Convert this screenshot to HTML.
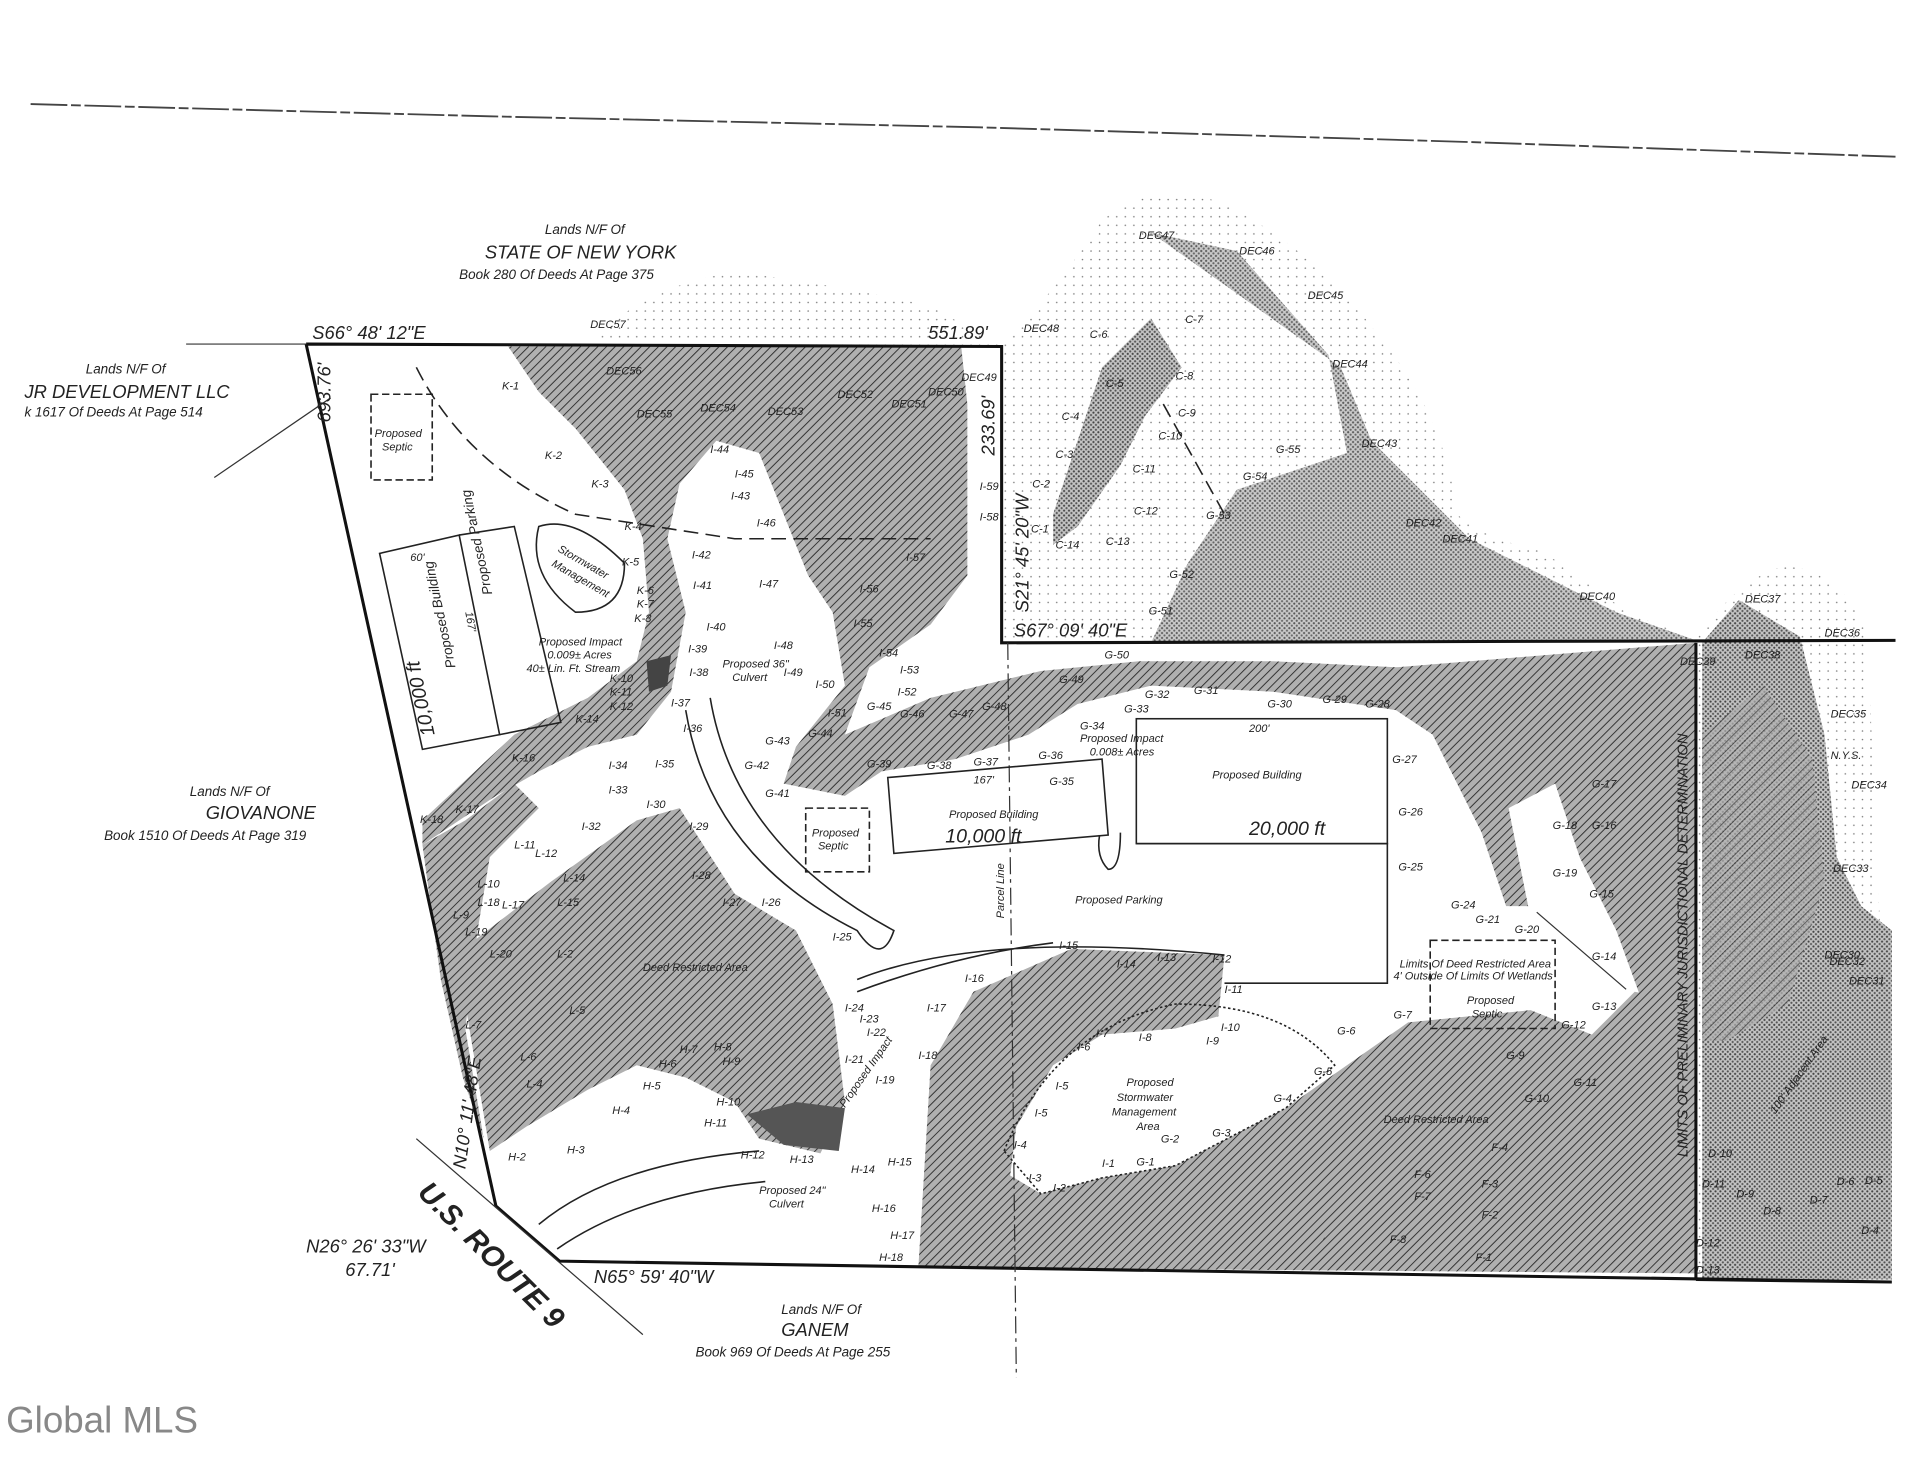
<!DOCTYPE html>
<html><head><meta charset="utf-8"><style>
html,body{margin:0;padding:0;background:#fff}
svg{display:block}
text{font-family:"Liberation Sans",sans-serif;fill:#222}
.s{font-size:9px;font-style:italic}
.m{font-size:11px;font-style:italic}
.b{font-size:15px}
</style></head><body>
<svg width="1920" height="1484" viewBox="0 0 1568 1212" preserveAspectRatio="none" xmlns="http://www.w3.org/2000/svg">
<defs>
<pattern id="h" width="5" height="5" patternUnits="userSpaceOnUse" patternTransform="rotate(45)">
<rect width="5" height="5" fill="#b0b0b0"/><line x1="0" y1="0" x2="0" y2="5" stroke="#333" stroke-width="1.6"/></pattern>
<pattern id="d" width="4" height="4" patternUnits="userSpaceOnUse">
<rect width="4" height="4" fill="#c4c4c4"/><circle cx="1" cy="1" r="0.9" fill="#444"/><circle cx="3" cy="3" r="0.9" fill="#555"/></pattern>
<pattern id="ls" width="7" height="7" patternUnits="userSpaceOnUse">
<circle cx="2" cy="2" r="0.6" fill="#777"/></pattern>
</defs>
<rect width="1568" height="1212" fill="#fff"/>
<path d="M25 85 L400 95 L800 104 L1200 116 L1548 128" stroke="#444" stroke-width="1.5" fill="none" stroke-dasharray="30 3 8 3"/>
<path d="M485 280 Q520 235 600 222 Q680 232 760 250 L818 283 Z" fill="url(#ls)"/>
<path d="M818 283 Q860 240 900 180 Q950 140 1010 172 Q1080 210 1130 280 Q1180 340 1190 420 Q1210 440 1260 450 Q1300 480 1330 500 L1385 523 L940 525 L818 525 Z" fill="url(#ls)"/>
<path d="M1385 523 Q1420 470 1460 462 Q1510 470 1525 520 L1548 1045 L1385 1045 Z" fill="url(#ls)"/>
<path d="M940 190 L1010 205 L1085 290 L1100 370 L1010 400 L970 460 L940 525 L1385 523 L1320 500 L1200 440 L1120 360 L1095 300 Z" fill="url(#d)" opacity=".9"/>
<path d="M860 420 L900 300 L940 260 L965 300 L935 340 L915 380 L880 430 L860 445 Z" fill="url(#d)"/>
<path d="M1390 525 L1420 490 L1470 520 L1490 600 L1500 700 L1520 740 L1545 760 L1545 1045 L1390 1045 Z" fill="url(#d)"/>
<path d="M1390 600 L1440 560 L1480 620 L1490 720 L1460 820 L1410 850 L1390 850 Z" fill="url(#h)" opacity=".7"/>
<path d="M415 283 L785 283 L790 330 L790 470 L760 510 L710 545 L690 600 L640 640 L650 610 L690 560 L680 500 L660 470 L640 420 L620 370 L585 360 L555 395 L545 440 L560 500 L548 565 L520 600 L480 610 L440 630 L405 650 L345 690 L345 670 L420 600 L480 570 L520 540 L530 500 L525 440 L510 400 L470 350 L440 320 Z" fill="url(#h)"/>
<path d="M640 640 L690 600 L760 570 L850 548 L930 540 L1040 540 L1140 545 L1385 525 L1385 820 L1340 815 L1320 760 L1290 700 L1270 640 L1255 680 L1250 740 L1230 740 L1210 680 L1195 650 L1170 600 L1140 580 L1040 565 L940 560 L880 575 L840 600 L780 620 L720 630 L690 650 Z" fill="url(#h)"/>
<path d="M1232 660 L1270 640 L1290 700 L1262 745 L1248 740 Z" fill="#fff"/>
<path d="M750 1035 L760 870 L795 810 L875 775 L1000 780 L995 830 L960 840 L900 845 L860 870 L830 920 L825 960 L850 975 L900 962 L960 952 L1050 905 L1100 870 L1150 835 L1250 825 L1300 845 L1335 810 L1385 820 L1385 1040 Z" fill="url(#h)"/>
<path d="M385 770 L450 720 L520 670 L555 660 L600 730 L650 760 L680 820 L690 900 L670 942 L620 930 L600 900 L560 880 L520 870 L480 890 L430 920 L400 940 L390 880 L380 820 Z" fill="url(#h)"/>
<path d="M345 690 L380 670 L420 640 L440 660 L400 700 L390 760 L380 840 L395 930 L378 880 L360 800 Z" fill="url(#h)"/>
<path d="M610 910 L650 900 L690 905 L685 940 L640 935 Z" fill="#555"/>
<path d="M528 540 L548 535 L545 560 L530 565 Z" fill="#444"/>
<path d="M1140 950 L1220 935 L1240 990 L1230 1030 L1140 1030 L1120 1000 Z" fill="url(#h)" opacity=".8"/>
<path d="M250 281 L818 283 L818 525 L1548 523 M250 281 L405 985 L457 1030 L1545 1047 M1385 525 L1385 1045 M1385 1045 L1545 1047" stroke="#111" stroke-width="2.5" fill="none"/>
<line x1="152" y1="281" x2="250" y2="281" stroke="#333"/>
<line x1="175" y1="390" x2="270" y2="325" stroke="#333"/>
<line x1="340" y1="930" x2="525" y2="1090" stroke="#333"/>
<line x1="823" y1="525" x2="830" y2="1125" stroke="#333" stroke-dasharray="14 4 3 4"/>
<line x1="1255" y1="745" x2="1328" y2="808" stroke="#333"/>
<g fill="none" stroke="#222" stroke-width="1.3">
<rect x="303" y="322" width="50" height="70" stroke-dasharray="6 3"/>
<path d="M310 452 L375 437 L408 600 L345 612 Z"/>
<path d="M375 437 L420 430 L458 590 L408 600"/>
<rect x="658" y="660" width="52" height="52" stroke-dasharray="6 3"/>
<path d="M725 635 L900 620 L905 682 L730 697 Z"/>
<rect x="928" y="587" width="205" height="102"/>
<path d="M928 689 L1133 689 L1133 803 L1000 803"/>
<rect x="1168" y="768" width="102" height="72" stroke-dasharray="6 3"/>
<path d="M440 430 Q470 420 510 460 Q510 500 470 500 Q430 470 440 430 Z"/>
<path d="M560 580 Q580 700 700 760 Q720 790 730 760 Q600 690 580 570"/>
<path d="M820 940 Q860 840 960 820 Q1050 820 1090 870 L1050 905 L960 952 L900 962 L850 975 Z" stroke-dasharray="2 2"/>
<path d="M440 1000 Q500 950 620 940 M455 1020 Q520 975 625 965"/>
<path d="M700 800 Q800 760 1000 780 M700 810 Q780 780 860 770"/>
<path d="M340 300 Q380 380 470 420 L600 440 L760 440" stroke-dasharray="12 6"/>
<path d="M950 330 L1000 420" stroke-dasharray="12 6"/>
<path d="M915 680 Q915 710 905 710 Q895 700 898 682"/>
</g>
<text x="445" y="191" class="m">Lands N/F Of</text>
<text x="396" y="211" class="b" font-style="italic">STATE OF NEW YORK</text>
<text x="375" y="228" class="m">Book  280  Of Deeds At Page  375</text>
<text x="70" y="305" class="m">Lands N/F Of</text>
<text x="20" y="325" class="b" font-style="italic">JR DEVELOPMENT LLC</text>
<text x="20" y="340" class="m">k  1617  Of Deeds At Page  514</text>
<text x="155" y="650" class="m">Lands N/F Of</text>
<text x="168" y="669" class="b" font-style="italic">GIOVANONE</text>
<text x="85" y="686" class="m">Book  1510  Of Deeds At Page  319</text>
<text x="638" y="1073" class="m">Lands N/F Of</text>
<text x="638" y="1091" class="b" font-style="italic">GANEM</text>
<text x="568" y="1108" class="m">Book  969  Of Deeds At Page  255</text>
<text x="255" y="277" class="b" font-style="italic">S66° 48' 12"E</text>
<text x="758" y="277" class="b" font-style="italic">551.89'</text>
<text x="828" y="520" class="b" font-style="italic">S67° 09' 40"E</text>
<text x="485" y="1048" class="b" font-style="italic">N65° 59' 40"W</text>
<text x="250" y="1023" class="b" font-style="italic">N26° 26' 33"W</text>
<text x="282" y="1042" class="b" font-style="italic">67.71'</text>
<text transform="translate(270,345) rotate(-90)" class="b" font-style="italic">693.76'</text>
<text transform="translate(812,372) rotate(-90)" class="b" font-style="italic">233.69'</text>
<text transform="translate(840,500) rotate(-90)" class="b" font-style="italic">S21° 45' 20"W</text>
<text transform="translate(380,955) rotate(-82)" class="b" font-style="italic">N10° 11' 48"E</text>
<text transform="translate(340,975) rotate(45)" font-size="24" font-weight="bold" font-style="italic">U.S. ROUTE 9</text>
<text transform="translate(1378,945) rotate(-90)" font-size="12" font-style="italic">LIMITS OF PRELIMINARY JURISDICTIONAL DETERMINATION</text>
<text transform="translate(1450,910) rotate(-55)" class="s">100' Adjacent Area</text>
<text x="306" y="357" class="s">Proposed</text><text x="312" y="368" class="s">Septic</text>
<text x="663" y="683" class="s">Proposed</text><text x="668" y="694" class="s">Septic</text>
<text x="1198" y="820" class="s">Proposed</text><text x="1202" y="831" class="s">Septic</text>
<text transform="translate(372,545) rotate(-102)" class="m">Proposed Building</text>
<text transform="translate(355,600) rotate(-102)" font-size="16" font-style="italic">10,000 ft</text>
<text transform="translate(402,485) rotate(-102)" class="m">Proposed Parking</text>
<text x="335" y="458" class="s">60'</text>
<text transform="translate(380,500) rotate(80)" class="s">167'</text>
<text x="775" y="668" class="s">Proposed Building</text>
<text x="772" y="688" font-size="16" font-style="italic">10,000 ft</text>
<text x="990" y="636" class="s">Proposed Building</text>
<text x="1020" y="682" font-size="16" font-style="italic">20,000 ft</text>
<text x="1020" y="598" class="s">200'</text>
<text x="795" y="640" class="s">167'</text>
<text x="878" y="738" class="s">Proposed Parking</text>
<text transform="translate(820,750) rotate(-90)" class="s">Parcel Line</text>
<text x="920" y="887" class="s">Proposed</text><text x="912" y="899" class="s">Stormwater</text><text x="908" y="911" class="s">Management</text><text x="928" y="923" class="s">Area</text>
<text transform="translate(455,450) rotate(30)" class="s">Stormwater</text>
<text transform="translate(450,462) rotate(30)" class="s">Management</text>
<text x="440" y="527" class="s">Proposed Impact</text>
<text x="447" y="538" class="s">0.009± Acres</text>
<text x="430" y="549" class="s">40± Lin. Ft. Stream</text>
<text x="590" y="545" class="s">Proposed 36"</text><text x="598" y="556" class="s">Culvert</text>
<text x="882" y="606" class="s">Proposed Impact</text><text x="890" y="617" class="s">0.008± Acres</text>
<text x="620" y="975" class="s">Proposed 24"</text><text x="628" y="986" class="s">Culvert</text>
<text transform="translate(690,905) rotate(-55)" class="s">Proposed Impact</text>
<text x="525" y="793" class="s">Deed Restricted Area</text>
<text x="1130" y="917" class="s">Deed Restricted Area</text>
<text x="1143" y="790" class="s">Limits Of Deed Restricted Area</text>
<text x="1138" y="800" class="s">4' Outside Of Limits Of Wetlands</text>
<text x="1495" y="620" class="s">N.Y.S.</text>
<g class="s" font-size="8">
<text x="930" y="195">DEC47</text><text x="1012" y="208">DEC46</text><text x="1068" y="244">DEC45</text><text x="1088" y="300">DEC44</text><text x="1112" y="365">DEC43</text><text x="1148" y="430">DEC42</text><text x="1178" y="443">DEC41</text><text x="1290" y="490">DEC40</text><text x="1425" y="492">DEC37</text><text x="1490" y="520">DEC36</text><text x="1425" y="538">DEC38</text><text x="1372" y="543">DEC39</text><text x="1495" y="586">DEC35</text><text x="1512" y="644">DEC34</text><text x="1497" y="712">DEC33</text><text x="1494" y="788">DEC32</text><text x="1490" y="783">DEC30</text><text x="1510" y="804">DEC31</text>
<text x="482" y="268">DEC57</text><text x="495" y="306">DEC56</text><text x="520" y="341">DEC55</text><text x="572" y="336">DEC54</text><text x="627" y="339">DEC53</text><text x="684" y="325">DEC52</text><text x="728" y="333">DEC51</text><text x="758" y="323">DEC50</text><text x="785" y="311">DEC49</text><text x="836" y="271">DEC48</text>
<text x="410" y="318">K-1</text><text x="445" y="375">K-2</text><text x="483" y="398">K-3</text><text x="510" y="433">K-4</text><text x="508" y="462">K-5</text><text x="520" y="485">K-6</text><text x="520" y="496">K-7</text><text x="518" y="508">K-8</text><text x="498" y="557">K-10</text><text x="498" y="568">K-11</text><text x="498" y="580">K-12</text><text x="470" y="590">K-14</text><text x="418" y="622">K-16</text><text x="372" y="664">K-17</text><text x="343" y="672">K-18</text>
<text x="580" y="370">I-44</text><text x="600" y="390">I-45</text><text x="597" y="408">I-43</text><text x="618" y="430">I-46</text><text x="565" y="456">I-42</text><text x="566" y="481">I-41</text><text x="620" y="480">I-47</text><text x="577" y="515">I-40</text><text x="562" y="533">I-39</text><text x="563" y="552">I-38</text><text x="548" y="577">I-37</text><text x="558" y="598">I-36</text><text x="535" y="627">I-35</text><text x="497" y="628">I-34</text><text x="497" y="648">I-33</text><text x="475" y="678">I-32</text><text x="528" y="660">I-30</text><text x="563" y="678">I-29</text><text x="565" y="718">I-28</text><text x="590" y="740">I-27</text><text x="622" y="740">I-26</text><text x="680" y="768">I-25</text><text x="690" y="826">I-24</text><text x="702" y="835">I-23</text><text x="708" y="846">I-22</text><text x="690" y="868">I-21</text><text x="715" y="885">I-19</text><text x="632" y="530">I-48</text><text x="640" y="552">I-49</text><text x="666" y="562">I-50</text><text x="676" y="585">I-51</text>
<text x="740" y="458">I-57</text><text x="702" y="484">I-56</text><text x="697" y="512">I-55</text><text x="718" y="536">I-54</text><text x="735" y="550">I-53</text><text x="733" y="568">I-52</text><text x="800" y="400">I-59</text><text x="800" y="425">I-58</text>
<text x="890" y="276">C-6</text><text x="968" y="264">C-7</text><text x="903" y="316">C-5</text><text x="960" y="310">C-8</text><text x="962" y="340">C-9</text><text x="867" y="343">C-4</text><text x="946" y="359">C-10</text><text x="862" y="374">C-3</text><text x="925" y="386">C-11</text><text x="843" y="398">C-2</text><text x="926" y="420">C-12</text><text x="842" y="435">C-1</text><text x="862" y="448">C-14</text><text x="903" y="445">C-13</text>
<text x="1042" y="370">G-55</text><text x="1015" y="392">G-54</text><text x="985" y="424">G-53</text><text x="955" y="472">G-52</text><text x="938" y="502">G-51</text><text x="902" y="538">G-50</text><text x="865" y="558">G-49</text><text x="935" y="570">G-32</text><text x="975" y="567">G-31</text><text x="1035" y="578">G-30</text><text x="1080" y="574">G-29</text><text x="1115" y="578">G-28</text><text x="918" y="582">G-33</text><text x="882" y="596">G-34</text><text x="857" y="641">G-35</text><text x="848" y="620">G-36</text><text x="795" y="625">G-37</text><text x="757" y="628">G-38</text><text x="708" y="627">G-39</text><text x="660" y="602">G-44</text><text x="625" y="608">G-43</text><text x="608" y="628">G-42</text><text x="625" y="651">G-41</text><text x="708" y="580">G-45</text><text x="735" y="586">G-46</text><text x="775" y="586">G-47</text><text x="802" y="580">G-48</text>
<text x="1137" y="623">G-27</text><text x="1142" y="666">G-26</text><text x="1142" y="711">G-25</text><text x="1185" y="742">G-24</text><text x="1205" y="754">G-21</text><text x="1237" y="762">G-20</text><text x="1268" y="677">G-18</text><text x="1300" y="677">G-16</text><text x="1300" y="643">G-17</text><text x="1268" y="716">G-19</text><text x="1298" y="733">G-15</text><text x="1300" y="784">G-14</text><text x="1300" y="825">G-13</text><text x="1275" y="840">G-12</text><text x="1285" y="887">G-11</text><text x="1245" y="900">G-10</text><text x="1230" y="865">G-9</text><text x="1138" y="832">G-7</text><text x="1092" y="845">G-6</text><text x="1073" y="878">G-5</text><text x="1040" y="900">G-4</text><text x="990" y="928">G-3</text><text x="948" y="933">G-2</text><text x="928" y="952">G-1</text><text x="900" y="953">I-1</text>
<text x="865" y="775">I-15</text><text x="788" y="802">I-16</text><text x="757" y="826">I-17</text><text x="750" y="865">I-18</text><text x="912" y="790">I-14</text><text x="945" y="785">I-13</text><text x="990" y="786">I-12</text><text x="1000" y="811">I-11</text><text x="997" y="842">I-10</text><text x="985" y="853">I-9</text><text x="930" y="850">I-8</text><text x="895" y="847">I-7</text><text x="880" y="858">I-6</text><text x="862" y="890">I-5</text><text x="845" y="912">I-5</text><text x="828" y="938">I-4</text><text x="840" y="965">I-3</text><text x="860" y="973">I-2</text>
<text x="555" y="860">H-7</text><text x="583" y="858">H-8</text><text x="590" y="870">H-9</text><text x="538" y="872">H-6</text><text x="525" y="890">H-5</text><text x="500" y="910">H-4</text><text x="585" y="903">H-10</text><text x="575" y="920">H-11</text><text x="463" y="942">H-3</text><text x="415" y="948">H-2</text><text x="605" y="946">H-12</text><text x="645" y="950">H-13</text><text x="695" y="958">H-14</text><text x="725" y="952">H-15</text><text x="712" y="990">H-16</text><text x="727" y="1012">H-17</text><text x="718" y="1030">H-18</text>
<text x="390" y="725">L-10</text><text x="390" y="740">L-18</text><text x="410" y="742">L-17</text><text x="370" y="750">L-9</text><text x="380" y="764">L-19</text><text x="400" y="782">L-20</text><text x="455" y="782">L-2</text><text x="420" y="693">L-11</text><text x="437" y="700">L-12</text><text x="460" y="720">L-14</text><text x="455" y="740">L-15</text><text x="380" y="840">L-7</text><text x="425" y="866">L-6</text><text x="430" y="888">L-4</text><text x="465" y="828">L-5</text>
<text x="1218" y="940">F-4</text><text x="1155" y="962">F-6</text><text x="1155" y="980">F-7</text><text x="1210" y="970">F-3</text><text x="1210" y="995">F-2</text><text x="1135" y="1015">F-8</text><text x="1205" y="1030">F-1</text>
<text x="1395" y="945">D-10</text><text x="1390" y="970">D-11</text><text x="1418" y="978">D-9</text><text x="1440" y="992">D-8</text><text x="1478" y="983">D-7</text><text x="1500" y="968">D-6</text><text x="1520" y="1008">D-4</text><text x="1523" y="967">D-5</text><text x="1385" y="1018">D-12</text><text x="1385" y="1040">D-13</text>
</g>
<text x="5" y="1170" font-size="30" style="fill:#888">Global MLS</text>
</svg>
</body></html>
